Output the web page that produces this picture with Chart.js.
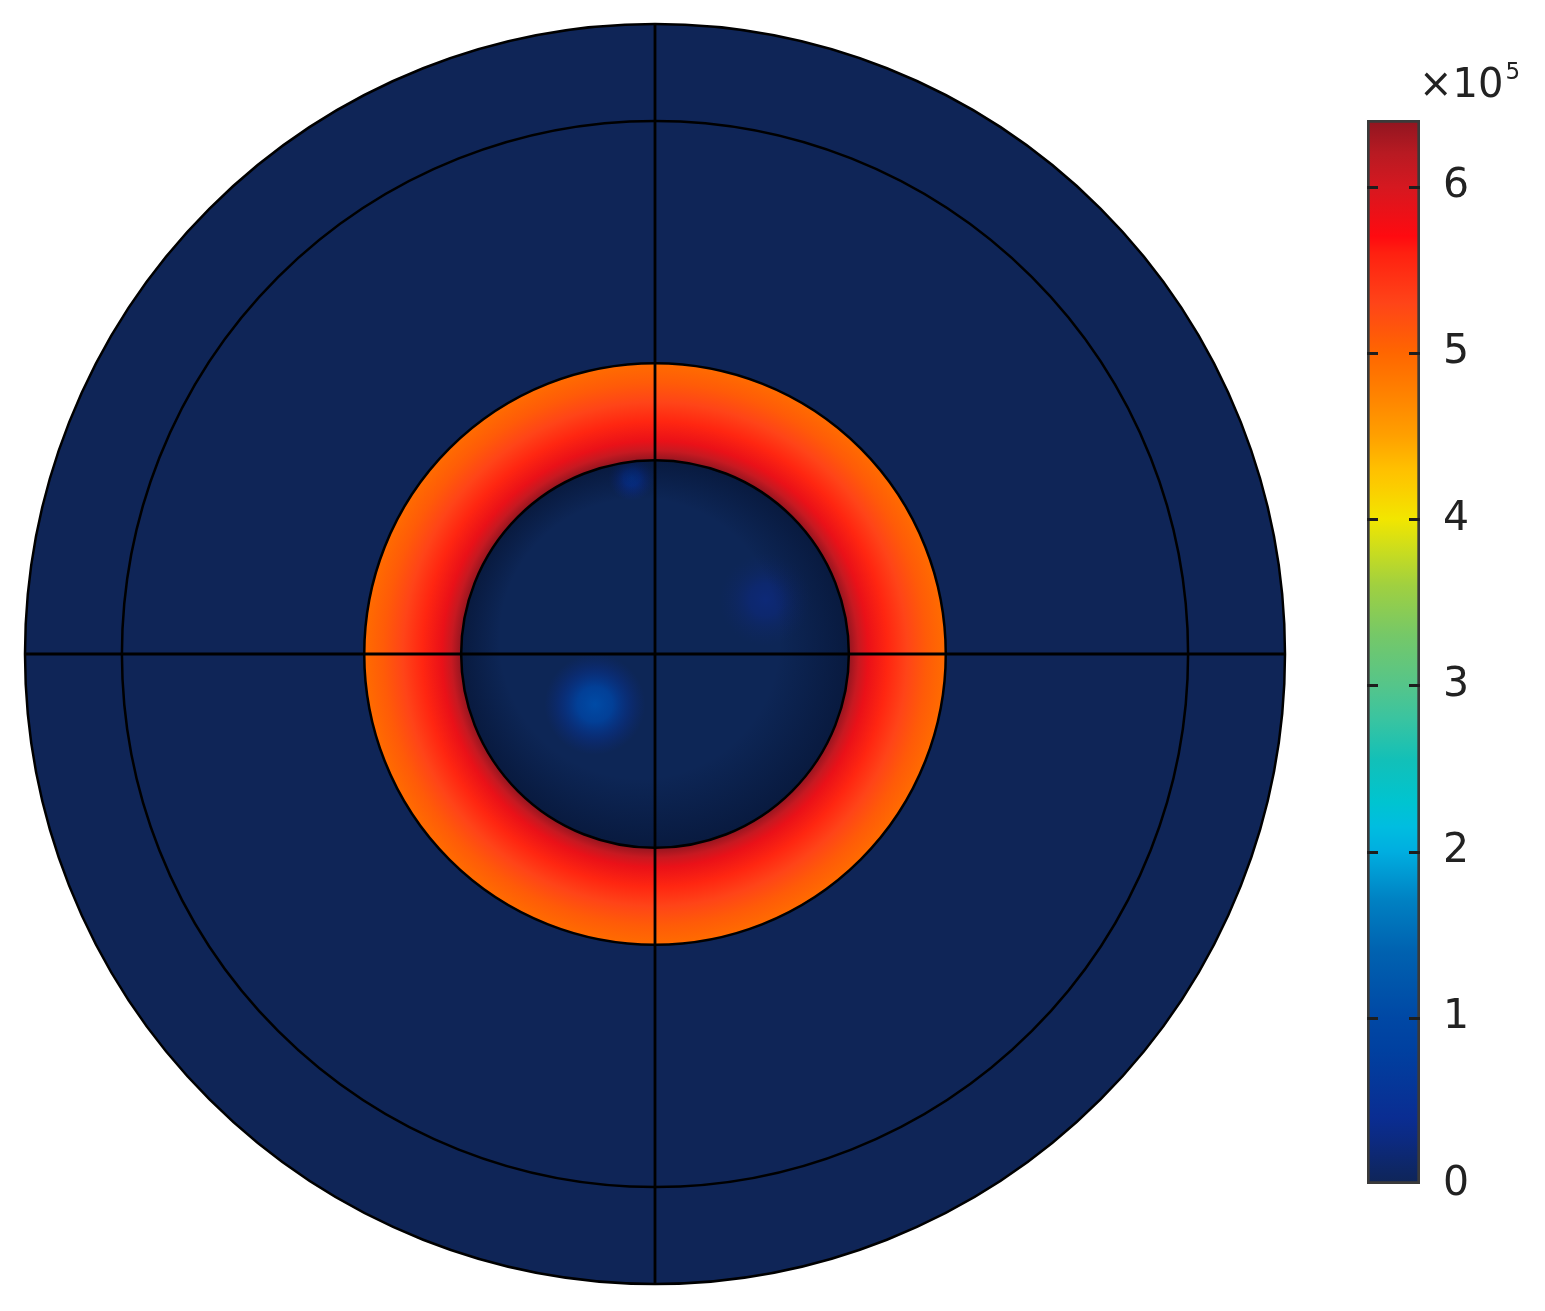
<!DOCTYPE html>
<html>
<head>
<meta charset="utf-8">
<script src="https://cdn.jsdelivr.net/npm/chart.js@4.4.1/dist/chart.umd.min.js"></script>
<style>
  html, body { margin: 0; padding: 0; background: #ffffff; }
  #plot { position: absolute; left: 0; top: 0; }
  #cbar { position: absolute; left: 1330px; top: 0; }
</style>
</head>
<body>
<canvas id="plot" width="1310" height="1311"></canvas>
<canvas id="cbar" width="215" height="1311"></canvas>
<script>
/* global Chart */

// Geometry (boundary radii, arbitrary length units)
const boundaryRadii = [32.5, 27.5, 15, 10];
const outerRadius = 32.5;
const ringInner = 10;
const ringOuter = 15;

// Field values along the radius of the hot ring (x 10^5)
const ringR = [10, 10.5, 11, 12, 13, 14, 15];
const ringV = [6.38, 6.1, 5.85, 5.55, 5.3, 5.1, 4.95];

// Weak spots inside the core
const spotX = [-3.1, 5.7, -1.2];
const spotY = [-2.6, 2.8, 9.1];
const spotV = [1.05, 0.2, 0.6];
const spotR = [2.6, 2.4, 1.2];

const backgroundV = 0;

// Colour bar
const cbMin = 0;
const cbMax = 6.4;
const cbTicks = [0, 1, 2, 3, 4, 5, 6];

// Colour map stops (value x 10^5 -> colour)
const cmapV = [0, 0.26, 0.4, 0.8, 1.0, 1.4, 1.7, 2.0, 2.15, 2.3, 2.55, 2.8, 3.0, 3.3, 3.6, 3.8, 4.0, 4.2, 4.3, 4.5, 4.7, 5.0, 5.3, 5.6, 5.7, 6.0, 6.2, 6.4];
const cmapC = ['#0f2557', '#0c2a80', '#0a2d92', '#0040a0', '#0048a5', '#0062b0', '#0080c2', '#00aee0', '#00bde0',
  '#00c4d0', '#12c0b8', '#3ac4a0', '#55c58a', '#75c868', '#a0d040', '#c8dc20', '#f2e600', '#fccc00',
  '#ffc000', '#ffa000', '#ff8800', '#ff6600', '#ff4418', '#ff2010', '#ff0a10', '#d51820', '#b81a22', '#8f1520'];

const FONT = "'DejaVu Sans', sans-serif";

function hexToRgb(h) {
  return [parseInt(h.slice(1, 3), 16), parseInt(h.slice(3, 5), 16), parseInt(h.slice(5, 7), 16)];
}

function cmap(v, alpha) {
  if (alpha === undefined) alpha = 1;
  let i = 0;
  while (i < cmapV.length - 2 && v > cmapV[i + 1]) i++;
  const t = Math.max(0, Math.min(1, (v - cmapV[i]) / (cmapV[i + 1] - cmapV[i])));
  const a = hexToRgb(cmapC[i]), b = hexToRgb(cmapC[i + 1]);
  const c = a.map((x, k) => Math.round(x + (b[k] - x) * t));
  return 'rgba(' + c[0] + ',' + c[1] + ',' + c[2] + ',' + alpha + ')';
}

// Section lines through the centre
const hLine = [{ x: -outerRadius, y: 0 }, { x: outerRadius, y: 0 }];
const vLine = [{ x: 0, y: -outerRadius }, { x: 0, y: outerRadius }];

const geometryPlugin = {
  id: 'geometry',
  beforeDatasetsDraw(chart) {
    const { ctx, scales: { x, y } } = chart;
    const cx = x.getPixelForValue(0);
    const cy = y.getPixelForValue(0);
    const px = (r) => x.getPixelForValue(r) - cx;

    ctx.save();
    // background domain
    ctx.beginPath();
    ctx.arc(cx, cy, px(outerRadius), 0, Math.PI * 2);
    ctx.fillStyle = cmap(backgroundV);
    ctx.fill();

    // hot ring
    const r0 = px(ringInner), r1 = px(ringOuter);
    const g = ctx.createRadialGradient(cx, cy, r0, cx, cy, r1);
    ringR.forEach((r, i) => {
      g.addColorStop((r - ringInner) / (ringOuter - ringInner), cmap(ringV[i]));
    });
    ctx.beginPath();
    ctx.arc(cx, cy, r1, 0, Math.PI * 2);
    ctx.arc(cx, cy, r0, 0, Math.PI * 2, true);
    ctx.fillStyle = g;
    ctx.fill('evenodd');

    // core
    ctx.beginPath();
    ctx.arc(cx, cy, r0, 0, Math.PI * 2);
    ctx.fillStyle = '#0d2656';
    ctx.fill();
    ctx.save();
    ctx.clip();
    spotX.forEach((sx, i) => {
      const hx = x.getPixelForValue(sx), hy = y.getPixelForValue(spotY[i]);
      const hr = px(spotR[i]);
      const sg = ctx.createRadialGradient(hx, hy, 0, hx, hy, hr);
      sg.addColorStop(0, cmap(spotV[i], 1));
      sg.addColorStop(0.35, cmap(spotV[i] * 0.85, 0.85));
      sg.addColorStop(0.7, cmap(spotV[i] * 0.5, 0.4));
      sg.addColorStop(1, cmap(spotV[i] * 0.3, 0));
      ctx.fillStyle = sg;
      ctx.fillRect(hx - hr, hy - hr, hr * 2, hr * 2);
    });
    // shading toward the core edge
    const eg = ctx.createRadialGradient(cx - r0 * 0.08, cy - r0 * 0.08, r0 * 0.72, cx, cy, r0);
    eg.addColorStop(0, 'rgba(4,14,40,0)');
    eg.addColorStop(1, 'rgba(4,14,40,0.5)');
    ctx.fillStyle = eg;
    ctx.fillRect(cx - r0, cy - r0, r0 * 2, r0 * 2);
    ctx.restore();
    ctx.restore();
  },
  afterDatasetsDraw(chart) {
    const { ctx, scales: { x, y } } = chart;
    const cx = x.getPixelForValue(0);
    const cy = y.getPixelForValue(0);
    ctx.save();
    ctx.strokeStyle = '#000000';
    ctx.lineWidth = 2.5;
    boundaryRadii.forEach((r) => {
      ctx.beginPath();
      ctx.arc(cx, cy, x.getPixelForValue(r) - cx, 0, Math.PI * 2);
      ctx.stroke();
    });
    ctx.restore();
  },
};

new Chart(document.getElementById('plot'), {
  type: 'scatter',
  data: {
    datasets: [
      { data: hLine, showLine: true, borderColor: '#000000', borderWidth: 2.8, pointRadius: 0 },
      { data: vLine, showLine: true, borderColor: '#000000', borderWidth: 2.8, pointRadius: 0 },
    ],
  },
  options: {
    responsive: false,
    animation: false,
    layout: { padding: { left: 25, right: 25, top: 24, bottom: 27 } },
    plugins: { legend: { display: false }, tooltip: { enabled: false } },
    scales: {
      x: { type: 'linear', min: -outerRadius, max: outerRadius, display: false },
      y: { type: 'linear', min: -outerRadius, max: outerRadius, display: false },
    },
  },
  plugins: [geometryPlugin],
});

// Colour bar: one floating bar spanning the value range
const cbarPlugin = {
  id: 'cbarDecor',
  afterDatasetsDraw(chart) {
    const { ctx, chartArea: a, scales: { y } } = chart;
    ctx.save();
    ctx.strokeStyle = '#1e1e1e';
    ctx.lineWidth = 3;
    cbTicks.forEach((v) => {
      if (v === cbMin) return;
      const py = Math.round(y.getPixelForValue(v)) + 0.5;
      ctx.beginPath();
      ctx.moveTo(a.left, py); ctx.lineTo(a.left + 11, py);
      ctx.moveTo(a.right - 11, py); ctx.lineTo(a.right, py);
      ctx.stroke();
    });
    // exponent label
    ctx.fillStyle = '#222222';
    ctx.textBaseline = 'alphabetic';
    ctx.textAlign = 'left';
    ctx.font = '40px ' + FONT;
    const base = '\u00d710';
    ctx.fillText(base, a.right - 1, 97);
    const w = ctx.measureText(base).width;
    ctx.font = '23px ' + FONT;
    ctx.fillText('5', a.right + w + 1, 79);
    ctx.restore();
  },
};

new Chart(document.getElementById('cbar'), {
  type: 'bar',
  data: {
    labels: [''],
    datasets: [{
      data: [[cbMin, cbMax]],
      backgroundColor: (c) => {
        const chart = c.chart;
        if (!chart.chartArea) return cmap(cbMin);
        const y = chart.scales.y;
        const g = chart.ctx.createLinearGradient(0, y.getPixelForValue(cbMin), 0, y.getPixelForValue(cbMax));
        cmapV.forEach((v, i) => g.addColorStop((v - cbMin) / (cbMax - cbMin), cmapC[i]));
        return g;
      },
      borderColor: '#3a3a3a',
      borderWidth: 3,
      borderSkipped: false,
      barPercentage: 1,
      categoryPercentage: 1,
    }],
  },
  options: {
    responsive: false,
    animation: false,
    layout: { padding: { left: 37, right: 25, top: 120, bottom: 127 } },
    plugins: { legend: { display: false }, tooltip: { enabled: false } },
    scales: {
      x: { display: false },
      y: {
        position: 'right',
        min: cbMin,
        max: cbMax,
        afterBuildTicks: (s) => { s.ticks = cbTicks.map((v) => ({ value: v })); },
        afterFit: (s) => { s.width = 100; },
        ticks: { font: { family: FONT, size: 41 }, color: '#222222', padding: 23 },
        grid: { display: false, drawTicks: false },
        border: { display: false },
      },
    },
  },
  plugins: [cbarPlugin],
});
</script>
</body>
</html>
